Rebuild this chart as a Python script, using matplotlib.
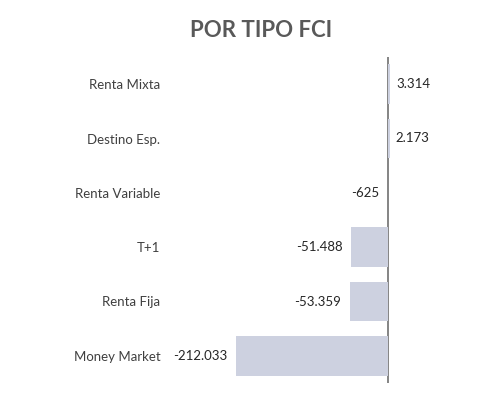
import matplotlib.pyplot as plt

# Flujos por tipo de FCI
categorias = ["Renta Mixta", "Destino Esp.", "Renta Variable", "T+1", "Renta Fija", "Money Market"]
valores = [3314, 2173, -625, -51488, -53359, -212033]

plt.rcParams["font.family"] = ["Lato", "DejaVu Sans"]

fig = plt.figure(figsize=(5.0, 4.07), dpi=100)
ax = fig.add_axes([170 / 500, 1 - 383 / 407, 310 / 500, 326 / 407])

pos = list(range(len(categorias)))
ax.barh(pos, valores, height=0.73, color="#CDD1E0", edgecolor="none", zorder=3)

ax.set_ylim(len(categorias) - 0.5, -0.5)
ax.set_xlim(-304100, 128350)

ax.set_yticks(pos)
ax.set_yticklabels(categorias, fontsize=9.5, color="#404040")
ax.tick_params(axis="y", length=0, pad=7)
ax.set_xticks([])

for s in ["top", "right", "bottom", "left"]:
    ax.spines[s].set_visible(False)
ax.axvline(-400, color="#6f6f6f", linewidth=1.2, zorder=2)


def fmt(v):
    return f"{v:,}".replace(",", ".")


for i, v in enumerate(valores):
    if v >= 0:
        ax.annotate(fmt(v), (v, i), xytext=(4, 0), textcoords="offset points",
                    ha="left", va="center", fontsize=9.5, color="#262626")
    else:
        ax.annotate(fmt(v), (v, i), xytext=(-6, 0), textcoords="offset points",
                    ha="right", va="center", fontsize=9.5, color="#262626")

fig.text(0.523, 0.925, "POR TIPO FCI", ha="center", va="center",
         fontsize=16, fontweight="bold", color="#595959")

fig.savefig("out.png", dpi=100)
